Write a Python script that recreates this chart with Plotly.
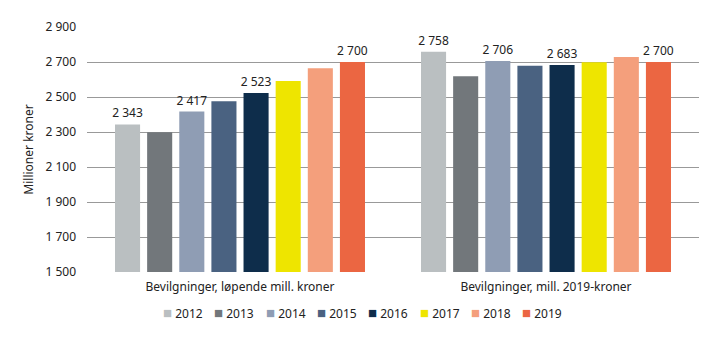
import plotly.graph_objects as go

categories = ["Bevilgninger, løpende mill. kroner", "Bevilgninger, mill. 2019-kroner"]
years = ["2012", "2013", "2014", "2015", "2016", "2017", "2018", "2019"]
values = {
    "2012": [2343, 2758],
    "2013": [2298, 2618],
    "2014": [2417, 2706],
    "2015": [2476, 2679],
    "2016": [2523, 2683],
    "2017": [2591, 2698],
    "2018": [2664, 2729],
    "2019": [2700, 2700],
}
labelled_years = ["2012", "2014", "2016", "2019"]
colors = {
    "2012": "#BABFC1",
    "2013": "#72777B",
    "2014": "#8F9DB4",
    "2015": "#4A6281",
    "2016": "#0E2D4B",
    "2017": "#EEE500",
    "2018": "#F49F7C",
    "2019": "#EB6642",
}

FONT = "Noto Sans"
TXT = "#222222"

fig = go.Figure()
for y in years:
    vals = values[y]
    texts = [f"{v:,}".replace(",", " ") if y in labelled_years else "" for v in vals]
    fig.add_trace(go.Bar(
        name=y,
        x=categories,
        y=vals,
        marker=dict(color=colors[y], line=dict(width=0)),
        text=texts,
        textposition="outside",
        constraintext="none",
        textfont=dict(family=FONT, size=12, color=TXT),
        cliponaxis=False,
        showlegend=False,
    ))

# Custom compact legend row below the plot
legend_start = (161 - 87) / 612
legend_step = 51.3 / 612
for i, y in enumerate(years):
    fig.add_annotation(
        xref="paper", yref="paper",
        x=legend_start + i * legend_step, y=-0.163,
        xanchor="left", yanchor="middle",
        showarrow=False,
        text=f"<span style='color:{colors[y]};font-size:15px'>■</span> {y}",
        font=dict(family=FONT, size=12, color=TXT),
    )

fig.update_layout(
    width=719,
    height=341,
    margin=dict(l=87, r=20, t=27, b=69),
    paper_bgcolor="white",
    plot_bgcolor="white",
    barmode="group",
    bargap=0.16,
    bargroupgap=0.22,
    separators=", ",
    font=dict(family=FONT, size=12, color=TXT),
    showlegend=False,
    xaxis=dict(
        showgrid=False,
        showline=False,
        ticks="",
        ticklabelstandoff=6,
        tickfont=dict(family=FONT, size=12, color=TXT),
    ),
    yaxis=dict(
        range=[1500, 2900],
        tick0=1500,
        dtick=200,
        tickformat=",d",
        showgrid=True,
        gridcolor="#999999",
        gridwidth=1,
        zeroline=False,
        showline=False,
        ticks="",
        ticklabelstandoff=10,
        tickfont=dict(family=FONT, size=12, color=TXT),
        title=dict(text="Millioner kroner", font=dict(family=FONT, size=12, color=TXT), standoff=9),
    ),
)

fig.write_html("out.html")
